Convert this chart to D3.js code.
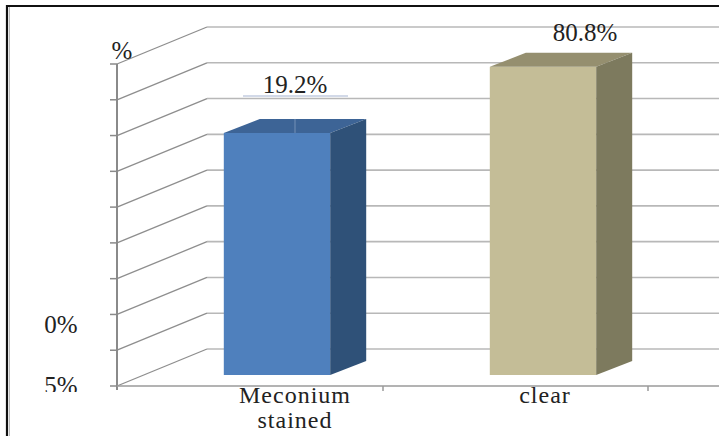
<!DOCTYPE html>
<html>
<head>
<meta charset="utf-8">
<script src="https://cdn.jsdelivr.net/npm/d3@7/dist/d3.min.js"></script>
<style>
  html, body { margin: 0; padding: 0; background: #fff; }
  svg { display: block; }
  text { font-family: "Liberation Serif", "Times New Roman", "DejaVu Serif", serif; fill: #222; }
</style>
</head>
<body>
<svg id="chart" width="719" height="436"></svg>
<script>
// Amniotic fluid colour
const categories = ["Meconium stained", "clear"];
const percentages = [19.2, 80.8];
const valueLabels = ["19.2%", "80.8%"];
const axisLabels = ["5%", "0%", "%"];
const axisLabelAt = [0, 1.7, 9];          // grid-step where each axis label sits
const gridSteps = 9;

const W = 719, H = 436;
const FONT = "Liberation Serif, Times New Roman, serif";
const svg = d3.select("#chart");

// plot frame (front plane) and 3D offsets
const left = 117, right = 649, floorY = 386, topY = 64;
const back = { dx: 90, dy: -37 };     // wall depth
const barShift = { dx: 27, dy: -11 }; // bar front face sits inside the floor
const barDepth = { dx: 36, dy: -14 };

const x = d3.scaleBand().domain(categories).range([left, right]);
const bw = x.bandwidth();
const barW = bw * 0.4;

const grid = d3.scaleLinear().domain([0, gridSteps]).range([floorY, topY]);
const y = d3.scaleLog().domain([0.1, 100]).range([floorY, floorY - 318]);

// outer border
svg.append("line").attr("x1", 6).attr("x2", W).attr("y1", 6).attr("y2", 6)
  .attr("stroke", "#111").attr("stroke-width", 2.2);
svg.append("line").attr("x1", 7).attr("x2", 7).attr("y1", 5).attr("y2", H)
  .attr("stroke", "#111").attr("stroke-width", 2.2);
svg.append("line").attr("x1", 9.5).attr("x2", 9.5).attr("y1", 7).attr("y2", H)
  .attr("stroke", "#bbb").attr("stroke-width", 1);

const g = svg.append("g");
const ticks = grid.ticks(gridSteps);

// back wall gridlines
g.selectAll("line.hgrid").data(ticks).join("line")
  .attr("class", "hgrid")
  .attr("x1", left + back.dx).attr("x2", W)
  .attr("y1", d => grid(d) + back.dy).attr("y2", d => grid(d) + back.dy)
  .attr("stroke", "#b8b8b8").attr("stroke-width", 1.6);

// side wall gridlines
g.selectAll("line.dgrid").data(ticks).join("line")
  .attr("class", "dgrid")
  .attr("x1", left).attr("y1", d => grid(d))
  .attr("x2", left + back.dx).attr("y2", d => grid(d) + back.dy)
  .attr("stroke", "#8e8e8e").attr("stroke-width", 1.3);

// vertical axis with ticks
g.append("line").attr("x1", left).attr("x2", left)
  .attr("y1", grid(gridSteps)).attr("y2", floorY + 4)
  .attr("stroke", "#8a8a8a").attr("stroke-width", 2);
g.selectAll("line.ytick").data(ticks).join("line")
  .attr("class", "ytick")
  .attr("x1", left - 7).attr("x2", left)
  .attr("y1", d => grid(d)).attr("y2", d => grid(d))
  .attr("stroke", "#8a8a8a").attr("stroke-width", 1.5);

// floor front edge and category ticks
g.append("line").attr("x1", left).attr("x2", W)
  .attr("y1", floorY).attr("y2", floorY)
  .attr("stroke", "#9a9a9a").attr("stroke-width", 1.6);
const catTicks = categories.map(c => x(c)).concat([right - 1]);
g.selectAll("line.xtick").data(catTicks.slice(1)).join("line")
  .attr("class", "xtick")
  .attr("x1", d => d).attr("x2", d => d)
  .attr("y1", floorY).attr("y2", floorY + 5)
  .attr("stroke", "#9a9a9a").attr("stroke-width", 1.5);

// axis labels (cut off below the plot floor)
svg.append("clipPath").attr("id", "ylabClip")
  .append("rect").attr("x", 0).attr("y", 0).attr("width", W).attr("height", 392);
const ylab = svg.append("g").attr("clip-path", "url(#ylabClip)");
axisLabels.forEach((t, i) => {
  const top = axisLabelAt[i] === gridSteps;
  ylab.append("text")
    .attr("x", top ? 122 : 61)
    .attr("y", grid(axisLabelAt[i]) + (top ? -5 : 8))
    .attr("text-anchor", "middle")
    .attr("font-family", FONT)
    .attr("font-size", 25)
    .text(t);
});

// bars
const colors = [
  { front: "#4f80bd", top: "#3d6496", side: "#2f5178" },
  { front: "#c4bd97", top: "#958f6f", side: "#7d7a5e" }
];
const bars = categories.map((c, i) => {
  const x0 = x(c) + (bw - barW) / 2 + barShift.dx;
  const yb = floorY + barShift.dy;
  const yt = y(percentages[i]) + barShift.dy;
  return { i, x0, x1: x0 + barW, yb, yt };
});

const bg = g.selectAll("g.bar").data(bars).join("g").attr("class", "bar");
bg.append("rect")
  .attr("x", d => d.x0).attr("y", d => d.yt)
  .attr("width", barW).attr("height", d => d.yb - d.yt)
  .attr("fill", d => colors[d.i].front);
bg.append("path")
  .attr("d", d => `M${d.x0},${d.yt}L${d.x0 + barDepth.dx},${d.yt + barDepth.dy}` +
    `L${d.x1 + barDepth.dx},${d.yt + barDepth.dy}L${d.x1},${d.yt}Z`)
  .attr("fill", d => colors[d.i].top);
bg.append("path")
  .attr("d", d => `M${d.x1},${d.yt}L${d.x1 + barDepth.dx},${d.yt + barDepth.dy}` +
    `L${d.x1 + barDepth.dx},${d.yb + barDepth.dy}L${d.x1},${d.yb}Z`)
  .attr("fill", d => colors[d.i].side);

// value labels
const valueNudge = [0, 24];
const lab = g.selectAll("g.vlab").data(bars).join("g").attr("class", "vlab");
lab.append("text")
  .attr("x", d => (d.x0 + d.x1) / 2 + barDepth.dx / 2 + valueNudge[d.i])
  .attr("y", d => d.yt - (d.i === 0 ? 40 : 26))
  .attr("text-anchor", "middle")
  .attr("font-family", FONT)
  .attr("font-size", 25)
  .text(d => valueLabels[d.i]);

// leader under the first value label
const b0 = bars[0];
const c0 = (b0.x0 + b0.x1) / 2 + barDepth.dx / 2;
g.append("line")
  .attr("x1", c0 - 52).attr("x2", c0 + 53)
  .attr("y1", b0.yt - 37).attr("y2", b0.yt - 37)
  .attr("stroke", "#c3cde0").attr("stroke-width", 1.6);
g.append("line")
  .attr("x1", c0).attr("x2", c0)
  .attr("y1", b0.yt + barDepth.dy).attr("y2", b0.yt)
  .attr("stroke", "#7590b6").attr("stroke-width", 1);

// category labels, one text per line
const catNudge = [18, 2];
categories.forEach((c, i) => {
  const cx = x(c) + bw / 2 + barShift.dx + catNudge[i];
  c.split(" ").forEach((w, k) => {
    g.append("text")
      .attr("class", "cat")
      .attr("x", cx)
      .attr("y", floorY + 17 + k * 25)
      .attr("text-anchor", "middle")
      .attr("font-family", FONT)
      .attr("font-size", 24)
      .attr("letter-spacing", 1)
      .text(w);
  });
});
</script>
</body>
</html>
